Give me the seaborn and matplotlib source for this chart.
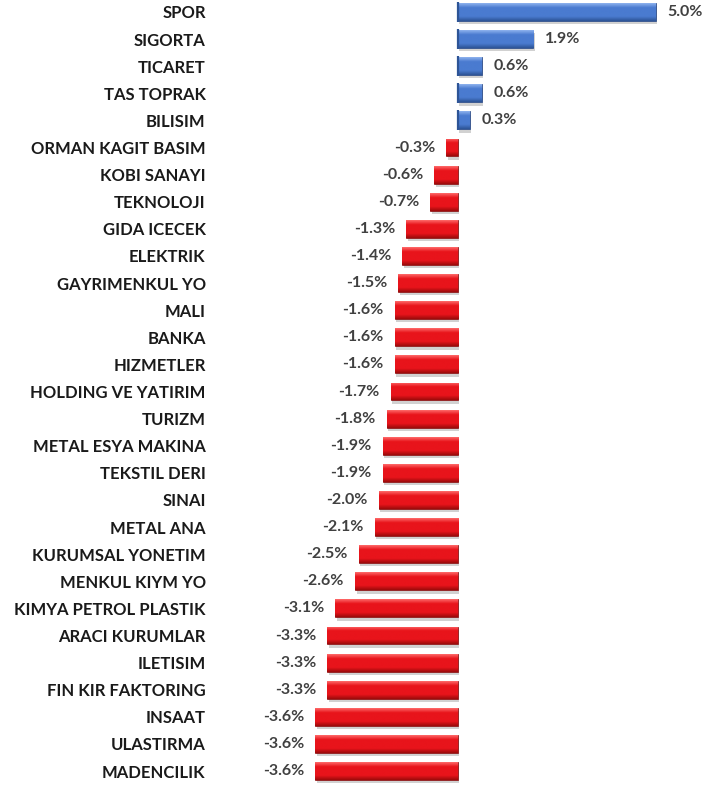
import numpy as np
import pandas as pd
import matplotlib
matplotlib.use("Agg")
import matplotlib.pyplot as plt
from matplotlib.patches import Rectangle
from matplotlib.colors import LinearSegmentedColormap
import seaborn as sns

categories = ["SPOR", "SIGORTA", "TICARET", "TAS TOPRAK", "BILISIM", "ORMAN KAGIT BASIM",
              "KOBI SANAYI", "TEKNOLOJI", "GIDA ICECEK", "ELEKTRIK", "GAYRIMENKUL YO", "MALI",
              "BANKA", "HIZMETLER", "HOLDING VE YATIRIM", "TURIZM", "METAL ESYA MAKINA",
              "TEKSTIL DERI", "SINAI", "METAL ANA", "KURUMSAL YONETIM", "MENKUL KIYM YO",
              "KIMYA PETROL PLASTIK", "ARACI KURUMLAR", "ILETISIM", "FIN KIR FAKTORING",
              "INSAAT", "ULASTIRMA", "MADENCILIK"]
values = [5.0, 1.9, 0.6, 0.6, 0.3, -0.3, -0.6, -0.7, -1.3, -1.4, -1.5, -1.6, -1.6, -1.6,
          -1.7, -1.8, -1.9, -1.9, -2.0, -2.1, -2.5, -2.6, -3.1, -3.3, -3.3, -3.3, -3.6, -3.6, -3.6]

df = pd.DataFrame({"cat": categories, "val": values})
df["sign"] = np.where(df["val"] >= 0, "pos", "neg")

sns.set_theme(style="white")
plt.rcParams["font.family"] = ["Lato", "DejaVu Sans"]

fig = plt.figure(figsize=(7.14, 7.87), dpi=100)
ax = fig.add_axes([0.43, 0.003, 0.55, 0.999])

blue_main = "#4a7bd0"
red_main = "#e8141b"
sns.barplot(data=df, y="cat", x="val", hue="sign", palette={"pos": blue_main, "neg": red_main},
            orient="h", width=0.66, dodge=False, legend=False, ax=ax, saturation=1)

def grad_cmap(top, mid, bot):
    return LinearSegmentedColormap.from_list("g", [(0, top), (0.25, mid), (0.75, mid), (1, bot)])

cm_pos = grad_cmap("#8fb3ee", "#4a7bd0", "#2d5496")
cm_neg = grad_cmap("#ff6a6a", "#e8141b", "#9c0b0b")
grad = np.linspace(0, 1, 64).reshape(-1, 1)

patches = list(ax.patches)
for p in patches:
    x0, y0 = p.get_x(), p.get_y()
    w, h = p.get_width(), p.get_height()
    if w == 0 or np.isnan(w):
        continue
    xa, xb = min(x0, x0 + w), max(x0, x0 + w)
    sh = Rectangle((xa + 0.04, y0 + 0.12), xb - xa, h, facecolor="#9a9a9a", alpha=0.45,
                   edgecolor="none", zorder=1)
    ax.add_patch(sh)
    p.set_zorder(2)
    cm = cm_pos if w > 0 else cm_neg
    im = ax.imshow(grad, extent=[xa, xb, y0 + h, y0], aspect="auto", cmap=cm, zorder=3,
                   interpolation="bilinear")
    im.set_clip_path(p)
    p.set_edgecolor("#1f3f7a" if w > 0 else "#7a0a0a")
    p.set_linewidth(0.5)
    if w > 0:
        ax.plot([xa, xa], [y0 - 0.04, y0 + h + 0.04], color="#2d5496", lw=1.6, zorder=4,
                solid_capstyle="butt")

for i, v in enumerate(values):
    if v >= 0:
        ax.text(v + 0.3, i, f"{v:.1f}%", ha="left", va="center", fontsize=11.5,
                fontweight="bold", color="#404040")
    else:
        ax.text(v - 0.28, i, f"{v:.1f}%", ha="right", va="center", fontsize=11.5,
                fontweight="bold", color="#404040")

ax.set_xlim(-3.81, 6.11)
ax.set_ylim(len(categories) - 0.5, -0.5)
ax.set_xlabel("")
ax.set_ylabel("")
ax.set_xticks([])
ax.tick_params(axis="y", length=0, pad=73)
for lab in ax.get_yticklabels():
    lab.set_fontweight("bold")
    lab.set_fontsize(12)
    lab.set_color("#1a1a1a")
for s in ax.spines.values():
    s.set_visible(False)

fig.savefig("out.png", dpi=100)
